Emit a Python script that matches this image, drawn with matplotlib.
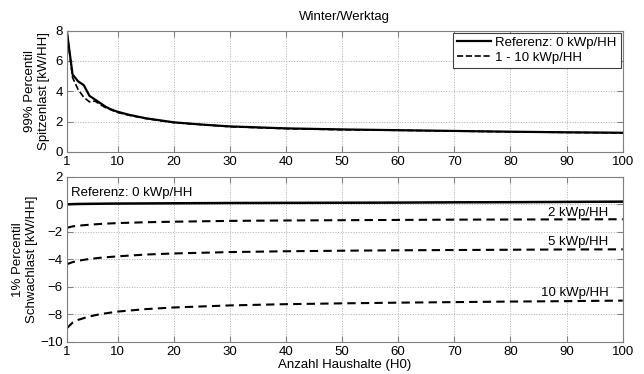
#!/usr/bin/env python3
import numpy as np
import matplotlib
matplotlib.use("Agg")
import matplotlib.pyplot as plt

plt.rcParams["font.family"] = ["Liberation Sans", "DejaVu Sans"]

# ------------------------
# Data
# ------------------------
x_top = [1, 2, 3, 4, 5, 6, 7, 8, 9, 10, 12, 15, 20, 25, 30, 40, 50, 60, 70, 80, 90, 100]
peak_ref = [7.9, 5.1, 4.65, 4.4, 3.7, 3.45, 3.2, 2.95, 2.78, 2.65, 2.45, 2.22, 1.95,
            1.8, 1.68, 1.55, 1.48, 1.43, 1.38, 1.33, 1.29, 1.26]
peak_pv = [7.9, 4.9, 4.1, 3.6, 3.3, 3.35, 3.1, 2.9, 2.75, 2.6, 2.42, 2.2, 1.93,
           1.8, 1.66, 1.53, 1.46, 1.42, 1.37, 1.32, 1.28, 1.25]

x_bot = [1, 2, 3, 5, 7, 10, 15, 20, 30, 40, 50, 60, 70, 80, 90, 100]
low_ref = [0.0, 0.02, 0.03, 0.04, 0.05, 0.06, 0.07, 0.08, 0.1, 0.11, 0.12, 0.13, 0.15,
           0.16, 0.18, 0.2]
low_2 = [-1.7, -1.6, -1.55, -1.48, -1.42, -1.36, -1.3, -1.26, -1.2, -1.17, -1.15,
         -1.13, -1.11, -1.1, -1.09, -1.08]
low_5 = [-4.35, -4.2, -4.1, -3.97, -3.88, -3.78, -3.65, -3.57, -3.47, -3.41, -3.37,
         -3.34, -3.32, -3.3, -3.28, -3.27]
low_10 = [-9.0, -8.6, -8.4, -8.15, -7.98, -7.8, -7.62, -7.5, -7.35, -7.26, -7.2,
          -7.15, -7.11, -7.07, -7.04, -7.0]

pv_labels = ["2 kWp/HH", "5 kWp/HH", "10 kWp/HH"]
pv_label_y = [-0.6, -2.75, -6.45]

xticks = [1, 10, 20, 30, 40, 50, 60, 70, 80, 90, 100]

FS = 9.5
GRID = dict(color="#b0b0b0", linestyle=":", linewidth=0.7)


def style(ax):
    ax.set_xlim(1, 100)
    ax.set_xticks(xticks)
    ax.grid(True, **GRID)
    ax.tick_params(direction="in", top=True, right=True, length=4, width=0.8,
                   color="#808080", labelsize=FS, pad=3)
    for s in ax.spines.values():
        s.set_color("#808080")
        s.set_linewidth(0.8)


fig = plt.figure(figsize=(6.44, 3.74), dpi=100)
ax1 = fig.add_axes([0.104, 0.594, 0.863, 0.324])
ax2 = fig.add_axes([0.104, 0.086, 0.863, 0.441])

# ------------------------
# Top: peak load
# ------------------------
ax1.plot(x_top, peak_ref, "-", color="black", linewidth=1.6, label="Referenz: 0 kWp/HH")
ax1.plot(x_top, peak_pv, "--", color="black", linewidth=1.2, label="1 - 10 kWp/HH")
style(ax1)
ax1.set_ylim(0, 8)
ax1.set_yticks([0, 2, 4, 6, 8])
ax1.set_ylabel("99% Percentil\nSpitzenlast [kW/HH]", fontsize=FS)
ax1.yaxis.set_label_coords(-0.031, 0.5)
ax1.set_title("Winter/Werktag", fontsize=FS, pad=8)
leg = ax1.legend(loc="upper right", fontsize=FS, fancybox=False, framealpha=1,
                 borderaxespad=0.15, handlelength=2.6, handletextpad=0.35,
                 borderpad=0.3, labelspacing=0.2)
leg.get_frame().set_edgecolor("#404040")
leg.get_frame().set_linewidth(0.8)

# ------------------------
# Bottom: minimum load
# ------------------------
ax2.plot(x_bot, low_ref, "-", color="black", linewidth=1.8)
for vals in (low_2, low_5, low_10):
    ax2.plot(x_bot, vals, "--", color="black", linewidth=1.5, dashes=(4, 2.5))
for lab, yy in zip(pv_labels, pv_label_y):
    ax2.text(97.5, yy, lab, ha="right", va="center", fontsize=FS)
ax2.text(1.8, 0.8, "Referenz: 0 kWp/HH", ha="left", va="center", fontsize=FS)
style(ax2)
ax2.set_ylim(-10, 2)
ax2.set_yticks([-10, -8, -6, -4, -2, 0, 2])
ax2.set_ylabel("1% Percentil\nSchwachlast [kW/HH]", fontsize=FS)
ax2.yaxis.set_label_coords(-0.052, 0.5)
ax2.set_xlabel("Anzahl Haushalte (H0)", fontsize=FS, labelpad=1)

fig.savefig("out.png", dpi=100)
